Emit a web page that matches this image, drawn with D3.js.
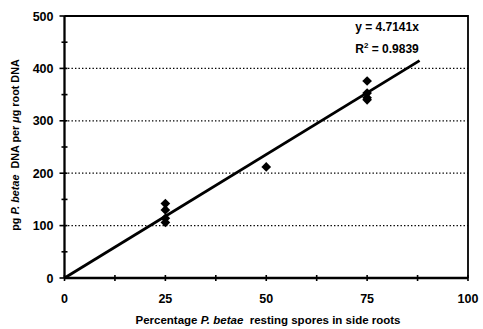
<!DOCTYPE html>
<html>
<head>
<meta charset="utf-8">
<script src="https://cdn.jsdelivr.net/npm/d3@7"></script>
<style>
  body { margin: 0; background: #fff; }
  svg { display: block; font-family: "Liberation Sans", Arial, sans-serif; }
</style>
</head>
<body>
<svg id="chart" width="483" height="329"></svg>
<script>
// Spore percentage vs measured P. betae DNA
const sporePct = [25, 25, 25, 25, 50, 75, 75, 75, 75];
const dnaPg    = [142, 130, 114, 106, 212, 376, 353, 344, 340];
const slope = 4.7141;
const rSquared = "0.9839";
const trendEnd = 88;
const xTicks = [0, 25, 50, 75, 100];
const yTicks = [0, 100, 200, 300, 400, 500];

const svg = d3.select("#chart");
const plotL = 64.5, plotR = 468, plotT = 16, plotB = 278;

const x = d3.scaleLinear().domain([0, 100]).range([plotL, plotR]);
const y = d3.scaleLinear().domain([0, 500]).range([plotB, plotT]);

// dotted gridlines
svg.append("g").selectAll("line")
  .data(yTicks.filter(v => v > 0 && v < 500))
  .join("line")
  .attr("x1", plotL).attr("x2", plotR)
  .attr("y1", d => y(d)).attr("y2", d => y(d))
  .attr("stroke", "#000").attr("stroke-width", 1.3)
  .attr("stroke-dasharray", "1.4,2.1");

// frame: top and right edges
svg.append("path")
  .attr("d", `M${plotL},${plotT}H${plotR}V${plotB}`)
  .attr("fill", "none").attr("stroke", "#000").attr("stroke-width", 1.8);

// y axis with minor cross ticks
const yAxis = svg.append("g").attr("transform", `translate(${plotL},0)`);
yAxis.append("line").attr("x1", 0).attr("x2", 0).attr("y1", plotT).attr("y2", plotB)
  .attr("stroke", "#000").attr("stroke-width", 2.3);
yAxis.selectAll("line.minor").data(d3.range(0, 501, 50)).join("line")
  .attr("class", "minor")
  .attr("x1", d => d % 100 === 0 ? -5 : -3).attr("x2", 3)
  .attr("y1", d => y(d)).attr("y2", d => y(d))
  .attr("stroke", "#000").attr("stroke-width", 1.6);
yAxis.selectAll("text").data(yTicks).join("text")
  .attr("x", -11).attr("y", d => y(d)).attr("dy", "0.36em")
  .attr("text-anchor", "end")
  .attr("font-size", 12.5).attr("font-weight", "bold")
  .text(d => d);

// x axis with cross ticks
const xAxis = svg.append("g").attr("transform", `translate(0,${plotB})`);
xAxis.append("line").attr("x1", plotL).attr("x2", plotR).attr("y1", 0).attr("y2", 0)
  .attr("stroke", "#000").attr("stroke-width", 2.3);
xAxis.selectAll("line.minor").data(d3.range(0, 100.1, 12.5)).join("line")
  .attr("class", "minor")
  .attr("x1", d => x(d)).attr("x2", d => x(d))
  .attr("y1", -3).attr("y2", 3)
  .attr("stroke", "#000").attr("stroke-width", 1.6);
xAxis.selectAll("text").data(xTicks).join("text")
  .attr("x", d => x(d)).attr("y", 25)
  .attr("text-anchor", "middle")
  .attr("font-size", 12.5).attr("font-weight", "bold")
  .text(d => d);

// trendline y = slope * x
svg.append("line")
  .attr("x1", x(0)).attr("y1", y(0))
  .attr("x2", x(trendEnd)).attr("y2", y(slope * trendEnd))
  .attr("stroke", "#000").attr("stroke-width", 2.8);

// data markers (diamonds)
const diamond = d3.symbol().type(d3.symbolDiamond2).size(60);
svg.append("g").selectAll("path")
  .data(sporePct.map((p, i) => [p, dnaPg[i]]))
  .join("path")
  .attr("d", diamond)
  .attr("transform", d => `translate(${x(d[0])},${y(d[1])})`)
  .attr("fill", "#000");

// equation labels
svg.append("text").attr("x", 387).attr("y", 31)
  .attr("text-anchor", "middle").attr("font-size", 12).attr("font-weight", "bold")
  .text(`y = ${slope}x`);
const r2 = svg.append("text").attr("x", 387).attr("y", 53)
  .attr("text-anchor", "middle").attr("font-size", 12).attr("font-weight", "bold");
r2.append("tspan").text("R");
r2.append("tspan").attr("dy", -5).attr("font-size", 8).text("2");
r2.append("tspan").attr("dy", 5).text(` = ${rSquared}`);

// axis titles
const xt = svg.append("text").attr("x", 268).attr("y", 324)
  .attr("text-anchor", "middle").attr("font-size", 11.5).attr("font-weight", "bold");
xt.append("tspan").text("Percentage ");
xt.append("tspan").attr("font-style", "italic").text("P. betae");
xt.append("tspan").text("\u00a0 resting spores in side roots");

const yt = svg.append("text")
  .attr("transform", `translate(19,145) rotate(-90)`)
  .attr("text-anchor", "middle").attr("font-size", 10.8).attr("font-weight", "bold");
yt.append("tspan").text("pg ");
yt.append("tspan").attr("font-style", "italic").text("P. betae");
yt.append("tspan").text("\u00a0 DNA per ");
yt.append("tspan").attr("font-style", "italic").text("\u03bc");
yt.append("tspan").text("g root DNA");
</script>
</body>
</html>
